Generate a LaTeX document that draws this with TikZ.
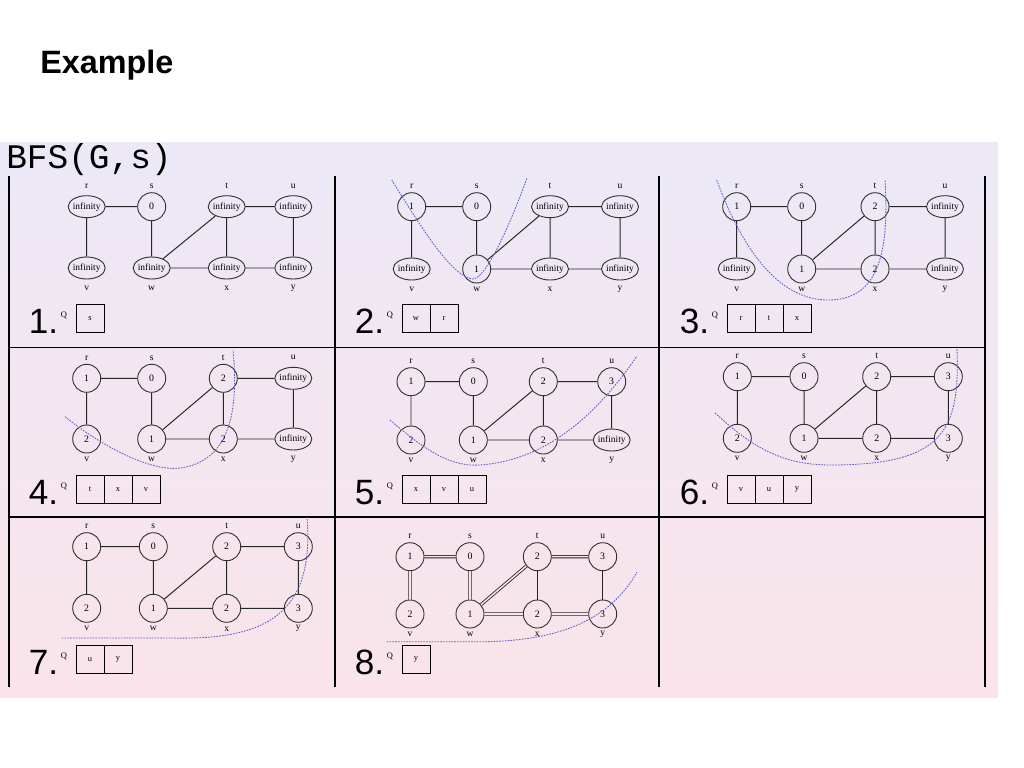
\documentclass[tikz,border=0pt]{standalone}
\usepackage{fontspec}
\setmainfont{Liberation Serif}
\newfontfamily\headfont{Liberation Sans}
\newfontfamily\codefont{Liberation Mono}
\usetikzlibrary{shapes.geometric}

\definecolor{panTop}{RGB}{236,232,246}
\definecolor{panBot}{RGB}{250,228,234}
\definecolor{cutblue}{RGB}{95,95,200}
\definecolor{vline}{RGB}{50,50,50}

% the nine edges of the graph
\newcommand{\bfsedges}{%
  \draw[gedge] (r) -- (s) (r) -- (v) (s) -- (w) (w) -- (t) (w) -- (x)
               (t) -- (x) (t) -- (u) (x) -- (y) (u) -- (y);}

% one step: cell corner, step number, vertices, queue
\newcommand{\bfscell}[5]{%
  \begin{scope}[shift={(#1,#2)}]
    \foreach \n/\px/\py/\d/\v/\sty in {#4} {
      \node[\sty] (\n) at (\px,\py) {\v};
      \node[vname] (l\n) at (\px,{\py+20.5*\d}) {\n};
    }
    \node[stepno] (no#3) at (19.5,157) {#3.};
    \node[qlab] (qlab#3) at (55,139.5) {Q};
    \foreach \q [count=\k] in {#5}
      \node[qbox] (q#3\k) at ({53+28*\k},142.5) {\q};
  \end{scope}}

\begin{document}
\begin{tikzpicture}
[x=0.025cm, y=-0.025cm,
vtx/.style={circle, draw=vline, line width=0.65pt, minimum size=0.7cm, inner sep=0pt, font=\fontsize{7}{8}\selectfont},
inf/.style={ellipse, draw=vline, line width=0.65pt, minimum width=0.925cm, minimum height=0.55cm, inner sep=-2.5pt, font=\fontsize{6.7}{8}\selectfont},
vname/.style={inner sep=0pt, font=\fontsize{6.8}{7}\selectfont},
stepno/.style={anchor=base west, inner sep=0pt, font=\headfont\fontsize{25}{25}\selectfont},
qlab/.style={inner sep=0pt, font=\fontsize{6}{7}\selectfont},
qbox/.style={rectangle, draw=black, line width=0.6pt, minimum size=0.7cm, inner sep=0pt, font=\fontsize{6}{7}\selectfont},
gedge/.style={draw=black!85, line width=0.7pt},
tedge/.style={draw=black!85, line width=0.6pt, double={rgb,255:red,248;green,229;blue,236}, double distance=1.1pt},
cut/.style={draw=cutblue, line width=0.6pt, dash pattern=on 1.2pt off 0.8pt},
grid/.style={line width=1.8pt},
hgrid/.style={line width=1.4pt}]

\useasboundingbox (0,0) rectangle (1024,768);

\node[anchor=base west, inner sep=0pt, font=\headfont\bfseries\fontsize{23}{23}\selectfont] (title) at (40,73.3) {Example};

\shade[top color=panTop, bottom color=panBot] (0,143) rectangle (998,697);
\node[anchor=base west, inner sep=0pt, font=\codefont\fontsize{24.5}{25}\selectfont] (algo) at (6,168.3) {BFS(G,s)};

\foreach \v in {9,335,659,985} {
  \draw[grid] (\v,176) -- (\v,687);
}
\draw[hgrid] (9,347.5) -- (985,347.5);
\draw[hgrid] (9,517) -- (985,517);

\bfscell{9}{176}{1}{r/77.7/30.7/-1/infinity/inf, s/142.7/30.7/-1/0/vtx, t/217.7/30.7/-1/infinity/inf, u/284.3/30.7/-1/infinity/inf,
  v/77.7/92/1/infinity/inf, w/142.7/92/1/infinity/inf, x/217.7/92/1/infinity/inf, y/284.3/92/1/infinity/inf}{s}
\bfsedges

\bfscell{335}{176}{2}{r/76.7/30.7/-1/1/vtx, s/141.7/30.7/-1/0/vtx, t/215/30.7/-1/infinity/inf, u/285/30.7/-1/infinity/inf,
  v/76.7/93/1/infinity/inf, w/141.7/93/1/1/vtx, x/215/93/1/infinity/inf, y/285/93/1/infinity/inf}{w,r}
\bfsedges

\bfscell{660}{176}{3}{r/76.7/30.7/-1/1/vtx, s/141.7/30.7/-1/0/vtx, t/215/30.7/-1/2/vtx, u/285/30.7/-1/infinity/inf,
  v/76.7/93/1/infinity/inf, w/141.7/93/1/1/vtx, x/215/93/1/2/vtx, y/285/93/1/infinity/inf}{r,t,x}
\bfsedges

\bfscell{9}{347}{4}{r/77.7/31.3/-1/1/vtx, s/142.7/31.3/-1/0/vtx, t/214.3/31.3/-1/2/vtx, u/284.3/31.3/-1/infinity/inf,
  v/77.7/92/1/2/vtx, w/142.7/92/1/1/vtx, x/214.3/92/1/2/vtx, y/284.3/92/1/infinity/inf}{t,x,v}
\bfsedges

\bfscell{335}{347}{5}{r/76/34.7/-1/1/vtx, s/138.3/34.7/-1/0/vtx, t/208.3/34.7/-1/2/vtx, u/276.7/34.7/-1/3/vtx,
  v/76/93/1/2/vtx, w/138.3/93/1/1/vtx, x/208.3/93/1/2/vtx, y/276.7/93/1/infinity/inf}{x,v,u}
\bfsedges

\bfscell{660}{347}{6}{r/77.3/29.7/-1/1/vtx, s/144/29.7/-1/0/vtx, t/216.7/29.7/-1/2/vtx, u/288.3/29.7/-1/3/vtx,
  v/77.3/91.3/1/2/vtx, w/144/91.3/1/1/vtx, x/216.7/91.3/1/2/vtx, y/288.3/91.3/1/3/vtx}{v,u,y}
\bfsedges

\bfscell{9}{517}{7}{r/77.7/29.7/-1/1/vtx, s/144.3/29.7/-1/0/vtx, t/217.7/29.7/-1/2/vtx, u/289.3/29.7/-1/3/vtx,
  v/77.7/91.3/1/2/vtx, w/144.3/91.3/1/1/vtx, x/217.7/91.3/1/2/vtx, y/289.3/91.3/1/3/vtx}{u,y}
\bfsedges

\bfscell{335}{517}{8}{r/75/39.7/-1/1/vtx, s/135/39.7/-1/0/vtx, t/202.3/39.7/-1/2/vtx, u/267.7/39.7/-1/3/vtx,
  v/75/97/1/2/vtx, w/135/97/1/1/vtx, x/202.3/97/1/2/vtx, y/267.7/97/1/3/vtx}{y}
\draw[tedge] (r) -- (s) (r) -- (v) (s) -- (w) (w) -- (t) (w) -- (x) (t) -- (u) (x) -- (y);
\draw[gedge] (t) -- (x) (u) -- (y);

% dashed frontier curves
\draw[cut] (391.7,180) .. controls (420,225) and (450,275) .. (472,279) .. controls (485,281) and (510,225) .. (527,178);
\draw[cut] (716.7,180) .. controls (735,230) and (770,300) .. (828,300) .. controls (875,300) and (890,260) .. (885,180);
\draw[cut] (65,416.7) .. controls (100,445) and (150,472) .. (180,468) .. controls (225,462) and (240,420) .. (233,350);
\draw[cut] (390,420) .. controls (425,450) and (450,467) .. (480,465) .. controls (550,460) and (600,410) .. (637,356);
\draw[cut] (715,413) .. controls (750,445) and (780,465) .. (830,465) .. controls (945,465) and (960,430) .. (957,348);
\draw[cut] (61.7,638) -- (173,638) .. controls (265,640) and (315,615) .. (307,517);
\draw[cut] (386.7,641.7) -- (486.7,641.7) .. controls (560,640) and (610,620) .. (637,572);
\end{tikzpicture}
\end{document}
